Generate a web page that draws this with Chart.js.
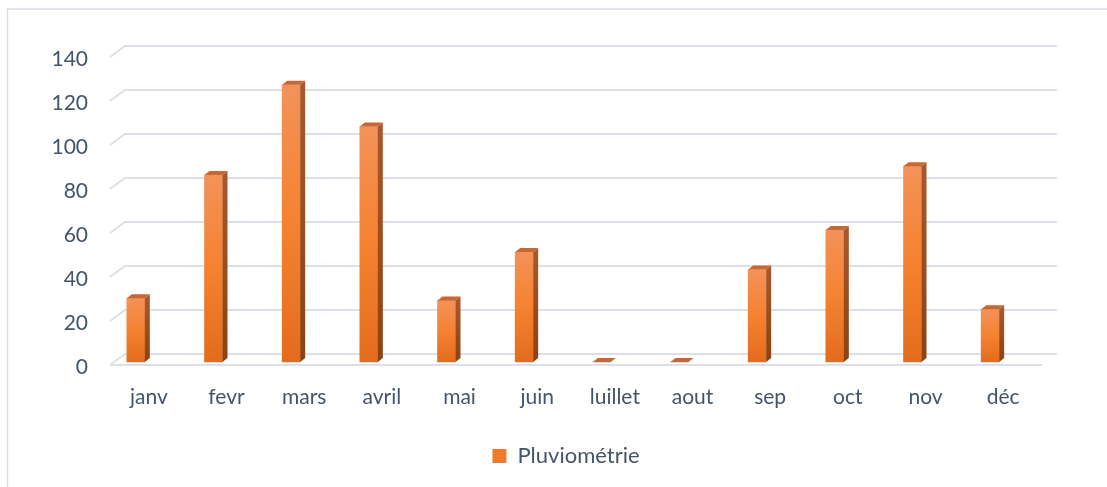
<!DOCTYPE html>
<html>
<head>
<meta charset="utf-8">
<script src="https://cdn.jsdelivr.net/npm/chart.js@4"></script>
<style>
  html, body { margin: 0; padding: 0; background: #fff; }
  canvas { display: block; }
</style>
</head>
<body>
<canvas id="rainChart" width="1107" height="487"></canvas>
<script>
const months = ['janv', 'fevr', 'mars', 'avril', 'mai', 'juin', 'luillet', 'aout', 'sep', 'oct', 'nov', 'déc'];
const rainfall = [29, 85, 126, 107, 28, 50, 0, 0, 42, 60, 89, 24];
const seriesName = 'Pluviométrie';
const yTicks = [0, 20, 40, 60, 80, 100, 120, 140];

const textColor = '#44546a';
const gridColor = '#dde0e6';
const font = { family: 'Lato', size: 21 };

// fake 3D look like the Excel original
const wallDepth = { x: 15, y: 11 };
const barDepth = { x: 5, y: 4 };
const barShift = { x: -13, y: -3 };

const frame = {
    id: 'frame',
    beforeDraw(chart) {
        const ctx = chart.ctx;
        ctx.save();
        ctx.strokeStyle = '#d9dde3';
        ctx.lineWidth = 1.5;
        ctx.strokeRect(7.5, 9, chart.width + 20, chart.height + 20);
        ctx.restore();
    }
};

const threeD = {
    id: 'threeD',
    beforeDatasetsDraw(chart) {
        const { ctx, chartArea: a, scales: { y } } = chart;
        ctx.save();
        ctx.strokeStyle = gridColor;
        ctx.lineWidth = 2;
        y.ticks.forEach(t => {
            const py = y.getPixelForValue(t.value);
            ctx.beginPath();
            ctx.moveTo(a.left, py);
            ctx.lineTo(a.left + wallDepth.x, py - wallDepth.y);
            ctx.lineTo(a.right + wallDepth.x, py - wallDepth.y);
            ctx.stroke();
        });
        const p0 = y.getPixelForValue(0);
        ctx.beginPath();
        ctx.moveTo(a.left, p0);
        ctx.lineTo(a.right, p0);
        ctx.stroke();
        ctx.restore();

        ctx.save();
        ctx.translate(barShift.x, barShift.y);
    },
    afterDatasetsDraw(chart) {
        const ctx = chart.ctx;
        const meta = chart.getDatasetMeta(0);
        meta.data.forEach(bar => {
            const { x, y, base, width } = bar.getProps(['x', 'y', 'base', 'width'], true);
            const l = x - width / 2, r = x + width / 2;

            const side = ctx.createLinearGradient(0, y, 0, base);
            side.addColorStop(0, '#a8582c');
            side.addColorStop(1, '#8c4212');
            ctx.fillStyle = side;
            ctx.beginPath();
            ctx.moveTo(r, y);
            ctx.lineTo(r + barDepth.x, y - barDepth.y);
            ctx.lineTo(r + barDepth.x, base - barDepth.y);
            ctx.lineTo(r, base);
            ctx.closePath();
            ctx.fill();

            ctx.fillStyle = '#c2693a';
            ctx.beginPath();
            ctx.moveTo(l, y);
            ctx.lineTo(l + barDepth.x, y - barDepth.y);
            ctx.lineTo(r + barDepth.x, y - barDepth.y);
            ctx.lineTo(r, y);
            ctx.closePath();
            ctx.fill();
        });
        ctx.restore();
    }
};

function frontFace(c) {
    const solid = '#f37f2e';
    if (c.type !== 'data') return solid;
    const chart = c.chart;
    const ys = chart.scales.y;
    if (!ys || !chart.chartArea) return solid;
    const top = ys.getPixelForValue(c.raw);
    const bot = ys.getPixelForValue(0);
    if (bot - top < 1) return solid;
    const g = chart.ctx.createLinearGradient(0, top, 0, bot);
    g.addColorStop(0, '#f39259');
    g.addColorStop(0.5, '#f58230');
    g.addColorStop(1, '#e36c1c');
    return g;
}

new Chart(document.getElementById('rainChart'), {
    type: 'bar',
    data: {
        labels: months,
        datasets: [{
            label: seriesName,
            data: rainfall,
            backgroundColor: frontFace,
            borderWidth: 0,
            barThickness: 18,
            clip: false
        }]
    },
    options: {
        responsive: false,
        animation: false,
        events: [],
        // legend sits a bit right of centre in the original, so the
        // right gap is an empty axis instead of padding
        layout: { padding: { top: 57, right: 0, bottom: 10, left: 25 } },
        scales: {
            x: {
                grid: { display: false, drawTicks: false },
                border: { display: false },
                ticks: { color: textColor, font: font, padding: 20, maxRotation: 0 },
                afterFit(s) { s.height = 70; }
            },
            y: {
                min: 0,
                max: 140,
                afterBuildTicks(s) { s.ticks = yTicks.map(v => ({ value: v })); },
                grid: { display: false, drawTicks: false },
                border: { display: false },
                ticks: { color: textColor, font: font, padding: 22, labelOffset: 2 },
                afterFit(s) { s.width = 85; }
            },
            gap: {
                position: 'right',
                grid: { display: false, drawTicks: false },
                border: { display: false },
                ticks: { display: false },
                afterFit(s) { s.width = 65; }
            }
        },
        plugins: {
            legend: {
                position: 'bottom',
                labels: {
                    boxWidth: 14,
                    boxHeight: 14,
                    color: textColor,
                    font: { family: 'Lato', size: 22 },
                    generateLabels: () => [{
                        text: seriesName,
                        fillStyle: '#f07c2a',
                        strokeStyle: '#f07c2a',
                        lineWidth: 0,
                        fontColor: textColor,
                        datasetIndex: 0
                    }]
                }
            },
            tooltip: { enabled: false }
        }
    },
    plugins: [frame, threeD]
});
</script>
</body>
</html>
